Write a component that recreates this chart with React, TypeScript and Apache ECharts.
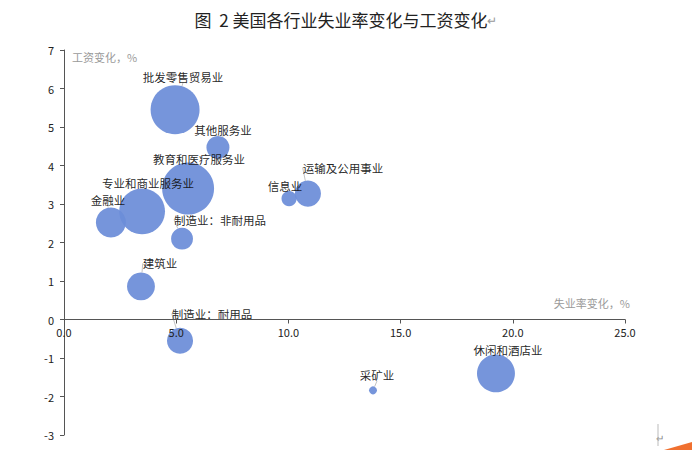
import React, { useEffect, useRef } from "react";
import * as echarts from "echarts";

const industries = [
  "批发零售贸易业",
  "其他服务业",
  "教育和医疗服务业",
  "专业和商业服务业",
  "金融业",
  "制造业：非耐用品",
  "建筑业",
  "信息业",
  "运输及公用事业",
  "制造业：耐用品",
  "采矿业",
  "休闲和酒店业",
];
const unemploymentChange = [4.95, 6.86, 5.53, 3.48, 2.09, 5.26, 3.43, 10.03, 10.87, 5.17, 13.77, 19.25];
const wageChange = [5.45, 4.47, 3.4, 2.81, 2.52, 2.1, 0.86, 3.14, 3.27, -0.55, -1.84, -1.4];
const bubbleWeight = [24, 5.3, 27, 21, 9, 4.8, 7.8, 2.3, 6.8, 6.8, 0.64, 14.4];

const xTicks = { min: 0, max: 25, interval: 5 };
const yTicks = { min: -3, max: 7, interval: 1 };

// label offsets (layout only, px)
const labelOffsets: [number, number][] = [
  [8, -33],
  [5, -17],
  [11, -30],
  [6, -28],
  [-3, -22],
  [38, -19],
  [19, -23],
  [-4, -13],
  [35, -26],
  [32, -27],
  [4, -15],
  [12, -23],
];

const FONT = '"Noto Sans CJK SC", "Noto Sans", sans-serif';
const GRID = { left: 64, right: 67, top: 50, bottom: 15 };
const HEIGHT = 450;

export default function App() {
  const ref = useRef<HTMLDivElement>(null);
  useEffect(() => {
    if (!ref.current) return;
    const chart = echarts.init(ref.current, undefined, { renderer: "svg" });
    const data = industries.map((name, i) => ({
      name,
      value: [unemploymentChange[i], wageChange[i], bubbleWeight[i]],
    }));
    const gridH = HEIGHT - GRID.top - GRID.bottom;
    const zeroOffset = -((0 - yTicks.min) / (yTicks.max - yTicks.min)) * gridH;
    chart.setOption({
      animation: false,
      backgroundColor: "#ffffff",
      title: {
        text: "图  2 美国各行业失业率变化与工资变化{m|↵}",
        left: "center",
        top: 6,
        textStyle: {
          fontFamily: FONT,
          fontSize: 17,
          fontWeight: "normal",
          color: "#222",
          rich: { m: { fontSize: 12, color: "#999", fontFamily: FONT } },
        },
      },
      grid: { ...GRID, containLabel: false },
      xAxis: {
        type: "value",
        z: 5,
        min: xTicks.min,
        max: xTicks.max,
        interval: xTicks.interval,
        offset: zeroOffset,
        name: "失业率变化，%",
        nameLocation: "end",
        nameGap: 5,
        nameTextStyle: {
          fontFamily: FONT,
          fontSize: 11,
          color: "#9a9a9a",
          align: "right",
          verticalAlign: "bottom",
          padding: [0, 0, 11, 0],
        },
        axisLine: { onZero: false, lineStyle: { color: "#555", width: 1 } },
        axisTick: { show: true, length: 4, lineStyle: { color: "#555" } },
        axisLabel: {
          formatter: (v: number) => v.toFixed(1),
          fontFamily: FONT,
          fontSize: 11,
          color: "#222",
          margin: 7,
        },
        splitLine: { show: false },
      },
      yAxis: {
        type: "value",
        min: yTicks.min,
        max: yTicks.max,
        interval: yTicks.interval,
        name: "工资变化，%",
        nameLocation: "end",
        nameGap: -7,
        nameTextStyle: {
          fontFamily: FONT,
          fontSize: 11,
          color: "#9a9a9a",
          align: "left",
          verticalAlign: "middle",
          padding: [0, 0, 0, 8],
        },
        axisLine: { show: true, onZero: false, lineStyle: { color: "#555", width: 1 } },
        axisTick: { show: true, length: 4, lineStyle: { color: "#555" } },
        axisLabel: { fontFamily: FONT, fontSize: 11, color: "#222", margin: 10 },
        splitLine: { show: false },
      },
      series: [
        {
          type: "scatter",
          data,
          symbolSize: (v: number[]) => 10 * Math.sqrt(v[2]),
          itemStyle: { color: "#6c8dd8", opacity: 0.93 },
          label: {
            show: true,
            position: "inside",
            formatter: (p: any) => p.name,
            fontFamily: FONT,
            fontSize: 11.5,
            color: "#111",
          },
          labelLayout: (p: any) => ({
            dx: labelOffsets[p.dataIndex][0],
            dy: labelOffsets[p.dataIndex][1],
          }),
          labelLine: { show: true, lineStyle: { color: "#c4c4c4", width: 1 } },
        },
      ],
      graphic: [
        {
          type: "text",
          left: 656,
          top: 432,
          style: { text: "↵", fontSize: 10, fill: "#888", fontFamily: FONT },
        },
        {
          type: "line",
          shape: { x1: 658, y1: 424, x2: 658, y2: 446 },
          style: { stroke: "#bbb", lineWidth: 1 },
        },
        {
          type: "polygon",
          shape: { points: [[664, 450], [692, 442], [692, 450]] },
          style: { fill: "#f07030" },
        },
      ],
    });
    return () => chart.dispose();
  }, []);
  return (
    <div
      ref={ref}
      style={{ position: "fixed", left: 0, top: 0, width: 692, height: 450 }}
    />
  );
}
